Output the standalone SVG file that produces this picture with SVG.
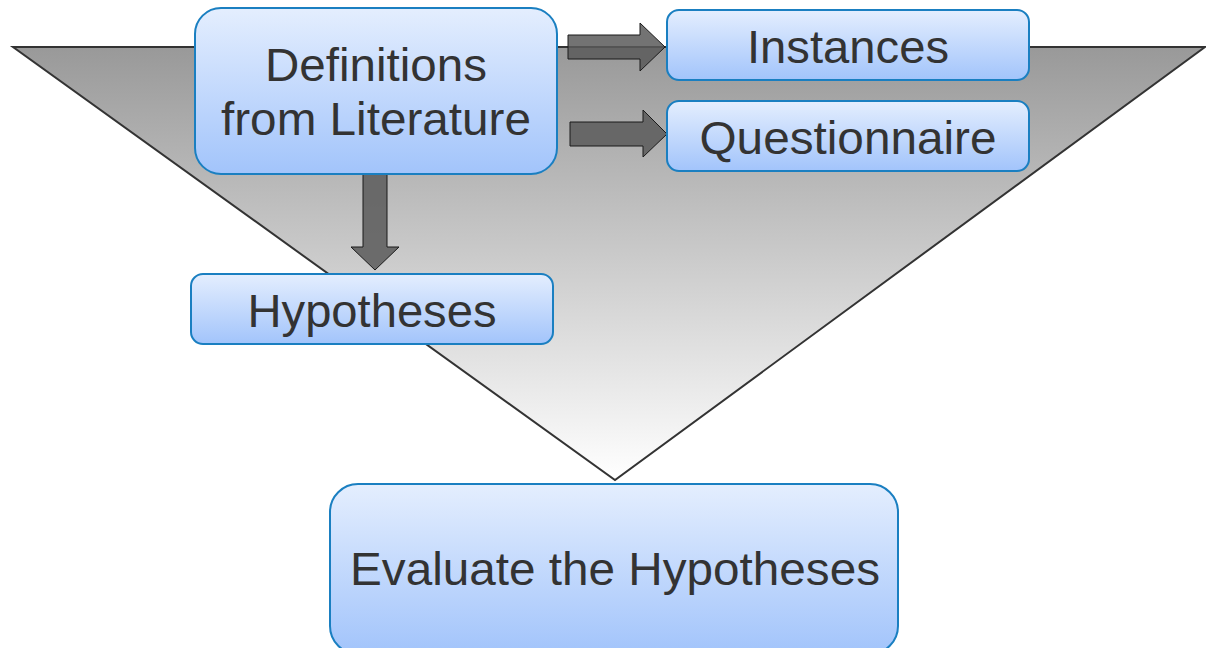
<svg xmlns="http://www.w3.org/2000/svg" width="1206" height="648" viewBox="0 0 1206 648">
<defs>
<linearGradient id="tri" x1="0" y1="0" x2="0" y2="1">
<stop offset="0" stop-color="#999999"/>
<stop offset="1" stop-color="#ffffff"/>
</linearGradient>
<linearGradient id="box" x1="0" y1="0" x2="0" y2="1">
<stop offset="0" stop-color="#e4eefe"/>
<stop offset="1" stop-color="#a2c4fb"/>
</linearGradient>
<style>
.node rect{fill:url(#box);stroke:#1a7fc1;stroke-width:2}
.node text{font-family:"Liberation Sans",Arial,sans-serif;font-size:46px;fill:#333;text-anchor:middle}
.arr{fill:#5a5a5a;fill-opacity:0.85;stroke:#1a1a1a;stroke-width:1}
</style>
</defs>
<g id="funnel">
<polygon points="13,47 1205,47 615,480" fill="url(#tri)" stroke="#333" stroke-width="2"/>
</g>
<g id="connectors">
<polygon class="arr" points="568,35 640,35 640,23 665,47 640,71 640,59 568,59"/>
<polygon class="arr" points="570,122 643,122 643,110 667,134 643,157 643,146 570,146"/>
<polygon class="arr" points="363,174 387,174 387,247 399,247 375,270 351,247 363,247"/>
</g>
<g id="definitions" class="node">
<rect x="195" y="8" width="362" height="166" rx="26"/>
<text x="376" y="81" textLength="222" lengthAdjust="spacingAndGlyphs">Definitions</text>
<text x="376" y="135" textLength="310" lengthAdjust="spacingAndGlyphs">from Literature</text>
</g>
<g id="instances" class="node">
<rect x="667" y="10" width="362" height="70" rx="12"/>
<text x="848" y="63" textLength="202" lengthAdjust="spacingAndGlyphs">Instances</text>
</g>
<g id="questionnaire" class="node">
<rect x="667" y="101" width="362" height="70" rx="12"/>
<text x="848" y="154" textLength="297" lengthAdjust="spacingAndGlyphs">Questionnaire</text>
</g>
<g id="hypotheses" class="node">
<rect x="191" y="274" width="362" height="70" rx="12"/>
<text x="372" y="327" textLength="249" lengthAdjust="spacingAndGlyphs">Hypotheses</text>
</g>
<g id="evaluate" class="node">
<rect x="330" y="484" width="568" height="170" rx="28"/>
<text x="615" y="585" textLength="530" lengthAdjust="spacingAndGlyphs">Evaluate the Hypotheses</text>
</g>
</svg>
